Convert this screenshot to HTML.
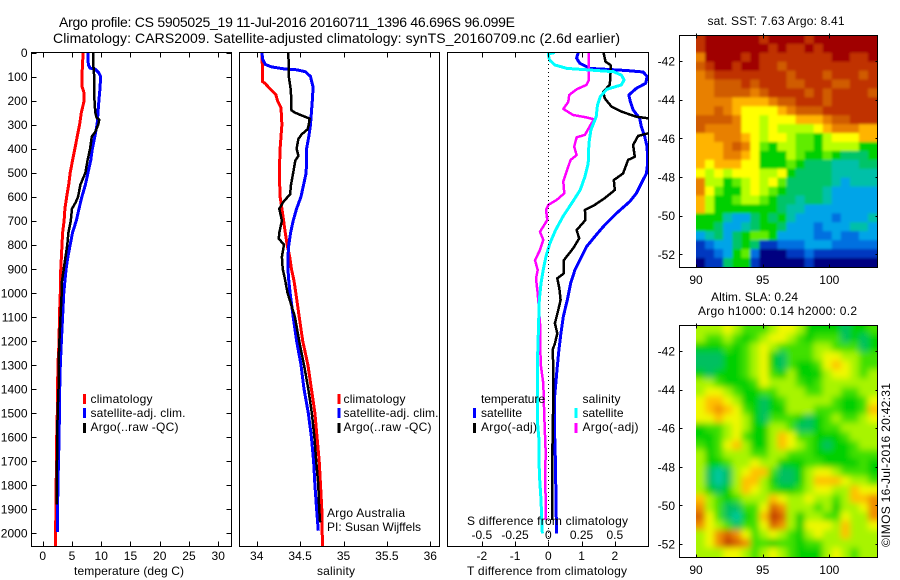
<!DOCTYPE html>
<html>
<head>
<meta charset="utf-8">
<title>Argo profile</title>
<style>
html,body{margin:0;padding:0;background:#fff;}
svg{display:block;}
text{font-family:"Liberation Sans",sans-serif;font-size:12px;fill:#000;}
</style>
</head>
<body>
<svg id="chart" xmlns="http://www.w3.org/2000/svg" width="900" height="580" viewBox="0 0 900 580">
<defs>
<clipPath id="clipP1"><rect x="31" y="52" width="200" height="494"/></clipPath>
<clipPath id="clipP2"><rect x="239" y="52" width="200" height="494"/></clipPath>
<clipPath id="clipP3"><rect x="447" y="52" width="201" height="494"/></clipPath>
<clipPath id="clipM1"><rect x="696" y="35" width="181" height="232"/></clipPath>
<clipPath id="clipM2"><rect x="696" y="325" width="181" height="232"/></clipPath>
<filter id="slaBlur" x="-10%" y="-10%" width="120%" height="120%"><feGaussianBlur stdDeviation="3.2"/></filter>
<filter id="sstBlur" x="-10%" y="-10%" width="120%" height="120%"><feGaussianBlur stdDeviation="1.2"/></filter>
</defs>
<rect x="0" y="0" width="900" height="580" fill="#fff"/>
<g id="maps"></g>
<g id="profiles"></g>
<line x1="548.5" x2="548.5" y1="52" y2="546" stroke="#000" stroke-dasharray="1 3" stroke-width="1" shape-rendering="crispEdges"/>
<g id="axes"></g>
<text x="59" y="27" font-size="14" style="font-size:14px" textLength="456">Argo profile: CS 5905025_19 11-Jul-2016 20160711_1396 46.696S 96.099E</text>
<text x="53" y="43" style="font-size:14px" textLength="567">Climatology: CARS2009. Satellite-adjusted climatology: synTS_20160709.nc (2.6d earlier)</text>
<text x="74" y="575" textLength="110">temperature (deg C)</text>
<text x="317" y="575" textLength="38">salinity</text>
<text x="467" y="575" textLength="160">T difference from climatology</text>
<text x="467" y="525" textLength="161">S difference from climatology</text>
<g>
<rect x="83" y="394" width="3" height="10" fill="#f00"/>
<text x="90.5" y="403" textLength="62">climatology</text>
<rect x="83" y="408" width="3" height="10" fill="#00f"/>
<text x="90.5" y="417" textLength="95">satellite-adj. clim.</text>
<rect x="83" y="423" width="3" height="10" fill="#000"/>
<text x="90.5" y="431" textLength="88">Argo(..raw -QC)</text>
</g>
<g>
<rect x="337.5" y="394" width="3" height="10" fill="#f00"/>
<text x="343.5" y="403" textLength="62">climatology</text>
<rect x="337.5" y="408" width="3" height="10" fill="#00f"/>
<text x="343.5" y="417" textLength="95">satellite-adj. clim.</text>
<rect x="337.5" y="423" width="3" height="10" fill="#000"/>
<text x="343.5" y="431" textLength="88">Argo(..raw -QC)</text>
</g>
<text x="327" y="517" textLength="78">Argo Australia</text>
<text x="327" y="531" textLength="94">PI: Susan Wijffels</text>
<g>
<text x="481" y="403" textLength="64">temperature</text>
<text x="582.5" y="403" textLength="38">salinity</text>
<rect x="473" y="408" width="3" height="10" fill="#00f"/>
<text x="481" y="417" textLength="41">satellite</text>
<rect x="473" y="423" width="3" height="10" fill="#000"/>
<text x="481" y="431" textLength="56">Argo(-adj)</text>
<rect x="574.5" y="408" width="3" height="10" fill="#0ff"/>
<text x="582.5" y="417" textLength="41">satellite</text>
<rect x="574.5" y="423" width="3" height="10" fill="#f0f"/>
<text x="582.5" y="431" textLength="56">Argo(-adj)</text>
</g>
<text x="707.5" y="25" textLength="137">sat. SST: 7.63 Argo: 8.41</text>
<text x="711" y="301" textLength="87">Altim. SLA: 0.24</text>
<text x="698" y="315" textLength="159">Argo h1000: 0.14 h2000: 0.2</text>
<text transform="translate(890,547) rotate(-90)" textLength="164">©IMOS 16-Jul-2016 20:42:31</text>
</svg>
<script>
// ---------- tick labels ----------
var depthTicks = [0,100,200,300,400,500,600,700,800,900,1000,1100,1200,1300,1400,1500,1600,1700,1800,1900,2000];
var tempTicks = [0,5,10,15,20,25,30];
var salTicks = [34,34.5,35,35.5,36];
var salTickLabels = ['34','34.5','35','35.5','36'];
var tDiffTicks = [-2,-1,0,1,2];
var sDiffTicks = [-0.5,-0.25,0,0.25,0.5];
var lonTicks = [90,95,100];
var latTicks = [-42,-44,-46,-48,-50,-52];

// ---------- temperature profiles ----------
var tClimDepth = [0,100,140,170,200,250,300,350,400,450,500,550,600,650,700,750,800,850,900,950,1000,1100,1200,1300,1400,1500,1600,1700,1800,1900,2000,2058];
var tClimValue = [6.9,6.7,6.7,7.1,7.1,6.6,6.3,5.9,5.5,5.1,4.7,4.45,4.1,3.8,3.65,3.4,3.3,3.2,3.1,3.0,3.0,2.85,2.8,2.6,2.55,2.5,2.4,2.35,2.3,2.25,2.2,2.2];
var tSatDepth = [0,50,65,70,85,100,150,200,250,300,350,400,450,500,550,600,650,700,750,800,850,900,950,1000,1100,1200,1300,1400,1500,1600,1700,1800,1900,1995];
var tSatValue = [7.75,7.8,8.1,9.0,9.6,9.9,9.8,9.6,9.45,9.3,8.9,8.5,8.2,7.75,7.3,6.7,6.2,5.75,5.1,4.7,4.3,4.0,3.8,3.6,3.4,3.2,3.0,2.9,2.85,2.8,2.7,2.6,2.55,2.5];
var tArgoDepth = [0,50,100,150,200,250,270,280,300,330,350,400,450,500,550,600,625,650,700,750,800,850,900,950,1000,1100,1200,1300,1400,1500,1600,1700,1800,1880];
var tArgoValue = [8.65,8.65,8.8,8.8,8.85,9.0,9.2,9.65,9.5,9.0,8.4,8.1,7.65,7.3,6.45,6.05,5.6,5.0,4.8,4.4,4.2,3.9,3.6,3.3,3.25,3.05,2.85,2.7,2.7,2.55,2.5,2.45,2.4,2.4];

// ---------- salinity profiles ----------
var sClimDepth = [0,50,120,130,150,175,200,230,300,400,500,600,650,700,750,800,850,900,950,1000,1100,1200,1300,1400,1500,1600,1700,1800,1900,2000,2058];
var sClimValue = [34.06,34.065,34.065,34.1,34.15,34.22,34.24,34.28,34.29,34.27,34.26,34.27,34.29,34.31,34.33,34.35,34.38,34.4,34.43,34.45,34.49,34.53,34.59,34.63,34.67,34.695,34.72,34.735,34.75,34.755,34.76];
var sSatDepth = [0,30,50,60,68,72,80,100,145,200,300,350,400,500,550,600,650,700,750,800,850,900,950,1000,1100,1200,1300,1400,1500,1600,1700,1800,1900,1990];
var sSatValue = [34.06,34.07,34.1,34.17,34.31,34.46,34.56,34.62,34.65,34.64,34.62,34.6,34.575,34.57,34.54,34.51,34.46,34.42,34.39,34.37,34.36,34.36,34.37,34.385,34.42,34.46,34.51,34.545,34.595,34.63,34.655,34.67,34.69,34.71];
var sArgoDepth = [0,100,150,200,240,250,265,275,300,320,340,360,400,430,450,500,550,590,620,650,700,750,775,800,850,900,950,1000,1100,1200,1300,1400,1500,1600,1700,1800,1900,1955];
var sArgoValue = [34.365,34.37,34.39,34.4,34.4,34.44,34.54,34.61,34.6,34.585,34.52,34.48,34.46,34.48,34.445,34.42,34.395,34.385,34.31,34.26,34.29,34.26,34.255,34.315,34.29,34.3,34.33,34.355,34.44,34.49,34.545,34.595,34.635,34.665,34.685,34.71,34.72,34.73];

// ---------- difference profiles ----------
var dtSatDepth = [0,24,45,66,75,81,100,128,149,177,205,239,274,309,350,392,461,503,544,586,620,669,725,766,808,850,905,961,1030,1099,1169,1238,1307,1446,1585,1724,1862,2001];
var dtSatValue = [0.9,0.85,0.95,1.25,2.35,2.85,2.97,2.93,2.65,2.42,2.47,2.55,2.75,2.8,2.9,2.97,2.99,2.95,2.8,2.65,2.45,2.05,1.65,1.4,1.15,1.0,0.8,0.67,0.57,0.45,0.38,0.32,0.27,0.18,0.19,0.22,0.23,0.25];
var dtArgoDepth = [0,38,52,87,135,163,191,225,246,267,274,300,336,347,385,434,447,503,531,572,606,634,655,697,739,773,815,864,919,940,981,1030,1071,1127,1169,1211,1238,1307,1377,1446,1585,1724,1862,1945];
var dtArgoValue = [1.66,1.72,1.87,1.87,1.85,1.65,1.7,1.9,2.2,2.65,3.0,3.4,3.02,2.7,2.55,2.6,2.4,2.25,1.97,2.0,1.7,1.4,1.1,1.12,0.85,0.93,0.75,0.47,0.47,0.27,0.33,0.37,0.3,0.2,0.27,0.2,0.13,0.15,0.15,0.15,0.13,0.12,0.12,0.11];
var dsSatDepth = [0,6,31,52,66,73,80,94,114,135,153,184,218,267,322,378,461,517,572,628,683,739,794,850,905,961,1030,1169,1307,1446,1530,1613,1751,1862,2001];
var dsSatValue = [0.05,0,0.008,0.05,0.14,0.31,0.49,0.55,0.57,0.55,0.44,0.39,0.37,0.36,0.32,0.305,0.3,0.275,0.24,0.175,0.11,0.055,0.012,-0.018,-0.038,-0.055,-0.068,-0.075,-0.083,-0.083,-0.083,-0.07,-0.068,-0.055,-0.045];
var dsArgoDepth = [0,45,114,135,153,177,205,235,260,270,278,309,343,353,392,427,447,503,537,586,614,634,655,697,746,780,822,864,905,940,1002,1071,1127,1211,1307,1377,1515,1654,1793,1932,1945];
var dsArgoValue = [0.305,0.305,0.305,0.2875,0.2125,0.1575,0.15,0.1125,0.1875,0.2875,0.3425,0.31,0.275,0.2125,0.195,0.2125,0.1675,0.1325,0.1125,0.12,0.0625,0,-0.0175,-0.0075,-0.0625,-0.0375,-0.0625,-0.1,-0.08,-0.0925,-0.08,-0.07,-0.0625,-0.0625,-0.055,-0.0375,-0.03,-0.02,-0.0225,-0.0175,-0.02];

// ---------- map grids (colour-scale level, 0 = coldest/lowest, 14 = warmest/highest) ----------
var sstLevels = [
[13,14,14,14,14,14,14,13,14,14,14,14,13,14,14,14,14,14,14,14],
[13,14,14,14,14,14,14,14,13,14,13,13,14,13,14,14,14,14,14,14],
[11,14,14,14,14,13,14,13,13,13,13,13,13,13,13,14,14,13,13,14],
[12,13,14,14,13,14,14,13,13,12,13,13,13,13,13,13,13,13,13,13],
[11,12,13,13,13,13,13,13,13,13,12,13,13,13,12,13,13,13,12,13],
[11,11,12,12,12,13,12,13,13,13,12,12,13,13,13,12,12,13,13,13],
[11,11,12,12,12,12,11,12,13,13,13,13,12,13,12,13,13,13,13,12],
[11,11,11,11,10,10,10,10,11,12,12,13,13,13,12,13,13,13,13,13],
[11,11,12,11,10,9,9,9,9,10,11,12,12,12,13,13,13,13,13,13],
[12,12,12,12,11,9,9,8,9,9,9,10,10,10,11,12,12,13,13,13],
[12,11,11,11,11,9,9,8,9,8,8,8,8,9,10,11,11,11,10,10],
[10,10,11,11,11,10,9,8,9,9,8,7,7,6,8,9,9,9,10,10],
[10,10,10,11,12,11,9,7,6,8,8,7,7,6,8,8,8,8,6,6],
[10,10,10,11,11,10,9,6,6,6,8,7,6,6,7,6,5,5,5,6],
[10,9,10,10,10,9,9,6,6,6,7,6,5,5,5,4,4,4,5,5],
[9,8,9,8,9,9,9,8,8,9,6,5,5,5,5,4,4,4,4,4],
[11,8,8,6,7,8,9,8,9,7,5,5,5,5,5,4,3,4,4,4],
[11,9,7,6,6,8,9,8,7,6,5,5,5,5,4,3,3,3,3,3],
[10,8,6,6,7,8,8,7,6,5,5,4,5,5,4,3,3,3,3,3],
[10,8,6,6,6,6,6,6,6,5,4,4,3,3,3,3,3,3,3,3],
[6,6,6,4,3,3,5,6,5,6,4,3,3,3,3,2,3,3,3,4],
[6,6,5,3,3,4,5,6,6,5,3,3,3,2,3,3,3,4,4,3],
[3,4,5,3,5,6,7,7,6,3,3,3,3,2,2,3,2,2,3,3],
[1,2,3,3,5,6,5,1,1,2,2,2,3,3,3,2,2,2,2,2],
[1,1,2,3,6,7,2,0,0,0,1,1,2,1,1,1,1,1,1,1],
[0,1,1,5,6,6,1,0,0,0,0,0,1,0,0,0,0,0,0,0]
];
var slaLevels = [
[8,8,8,9,8,7,7,7,8,9,9,8,6,6,6,6,5,6,6,7],
[8,7,7,8,7,6,7,8,9,9,8,7,6,7,7,7,5,6,5,6],
[6,6,6,7,6,7,8,9,8,7,7,7,7,8,8,7,7,7,5,6],
[5,5,5,6,6,7,8,9,6,5,7,7,7,8,9,9,8,8,7,7],
[5,5,5,6,6,7,8,9,6,5,7,6,6,7,9,10,9,8,7,7],
[6,5,6,6,6,7,8,9,7,6,8,6,6,6,8,9,9,8,7,8],
[8,8,7,6,6,6,7,9,8,8,8,7,6,7,8,8,8,8,8,8],
[8,9,9,8,7,6,6,7,7,8,8,8,7,7,8,8,7,7,8,8],
[9,10,10,9,8,6,6,5,6,7,8,8,8,8,8,7,6,6,7,9],
[9,10,11,10,9,7,6,5,6,6,8,8,8,7,7,7,6,6,7,10],
[9,9,10,9,9,8,6,5,7,7,7,6,5,6,7,8,7,7,8,9],
[6,7,7,8,9,8,6,6,8,8,7,5,5,6,7,7,8,8,8,8],
[6,6,7,8,9,7,6,6,8,10,9,7,7,6,6,6,7,8,8,8],
[7,6,7,9,10,8,6,6,8,10,9,8,7,6,5,6,6,7,8,8],
[8,6,7,8,8,8,7,7,8,8,7,7,7,6,6,6,6,7,7,7],
[8,6,6,7,8,8,9,8,8,6,6,6,7,7,6,6,6,6,7,6],
[8,5,4,5,8,9,10,10,7,5,5,6,8,9,9,8,7,7,7,6],
[8,5,4,5,8,10,10,8,6,5,5,6,8,10,10,10,9,8,8,7],
[8,6,5,6,8,10,9,8,7,6,6,7,8,9,9,8,8,10,9,9],
[10,8,7,6,7,8,8,8,10,9,8,8,9,8,8,7,8,10,10,11],
[11,8,7,5,5,7,7,9,12,11,8,8,8,7,8,6,8,8,9,11],
[12,9,7,5,4,6,7,10,13,12,8,6,8,8,7,7,9,8,8,11],
[11,9,8,7,5,7,7,9,12,11,8,6,9,9,9,8,10,8,8,9],
[8,9,11,12,11,9,7,8,9,8,7,6,8,9,8,8,10,8,8,8],
[8,9,11,13,12,11,7,7,6,7,7,6,7,7,8,8,8,8,8,8],
[8,8,8,9,9,8,7,8,9,8,7,6,6,6,8,9,8,7,8,8]
];
var sstColours = ['#000080','#0038c0','#0070e0','#00a4e8','#00c0a8','#00c468','#00d000','#60ec00','#b8ff00','#ffff00','#ffb400','#e88000','#d05c00','#c03000','#a00000'];
var slaColours = ['#000080','#0038c0','#0070e0','#00a4e8','#00c8a0','#00c060','#00d000','#40e000','#a8f400','#f0f800','#ffc000','#f09000','#d86000','#c03800','#a00000'];

var NS = 'http://www.w3.org/2000/svg';
var mapsG = document.getElementById('maps');
var profilesG = document.getElementById('profiles');
var axesG = document.getElementById('axes');

// axis functions
function yDepth(d){ return 52.5 + d * 0.2403; }
function xTemp(t){ return 42.7 + t * 5.85; }
function xSal(s){ return 256.7 + (s - 34) * 86.8; }
function xDiffT(t){ return 548.3 + t * 33.25; }
function xDiffS(s){ return 548.3 + s * 133; }
function xLon(lon){ return 696 + (lon - 90) * 13.33; }
function ySstLat(lat){ return 61 + (-42 - lat) * 19.33; }
function ySlaLat(lat){ return 351 + (-42 - lat) * 19.3; }

function svgEl(tag, parent){
  var el = document.createElementNS(NS, tag);
  parent.appendChild(el);
  return el;
}
function drawSeries(name, depths, values, xFn, colour, width, clipId){
  var pts = [];
  for (var i = 0; i < depths.length; i++){
    pts.push(xFn(values[i]).toFixed(1) + ',' + yDepth(depths[i]).toFixed(1));
  }
  var el = svgEl('polyline', profilesG);
  
  
  el.setAttribute('points', pts.join(' '));
  el.setAttribute('fill', 'none');
  el.setAttribute('stroke', colour);
  el.setAttribute('stroke-width', width);
  el.setAttribute('stroke-linejoin', 'round');
  el.setAttribute('shape-rendering', 'crispEdges');
  el.setAttribute('clip-path', 'url(#' + clipId + ')');
}
function drawLine(name, x1, y1, x2, y2){
  var el = svgEl('line', axesG);
  
  
  el.setAttribute('x1', x1);
  el.setAttribute('y1', y1);
  el.setAttribute('x2', x2);
  el.setAttribute('y2', y2);
  el.setAttribute('stroke', '#000');
  el.setAttribute('stroke-width', 1);
  el.setAttribute('shape-rendering', 'crispEdges');
}
function drawLabel(name, str, x, y, anchor){
  var el = svgEl('text', axesG);
  
  
  el.setAttribute('x', x);
  el.setAttribute('y', y);
  el.setAttribute('text-anchor', anchor);
  el.textContent = str;
}
function drawBox(name, l, t, r, b){
  var el = svgEl('rect', axesG);
  
  
  el.setAttribute('x', l);
  el.setAttribute('y', t);
  el.setAttribute('width', r - l);
  el.setAttribute('height', b - t);
  el.setAttribute('fill', 'none');
  el.setAttribute('stroke', '#000');
  el.setAttribute('shape-rendering', 'crispEdges');
}
function drawGrid(name, levels, colours, parent){
  var rows = levels.length, cols = levels[0].length;
  var lonStep = 13.58 / cols, latTop = -40.65, latStep = 12 / rows;
  var yFn = name === 'sst' ? ySstLat : ySlaLat;
  for (var j = 0; j < rows; j++){
    for (var i = 0; i < cols; i++){
      var x0 = xLon(90 + i * lonStep), x1 = xLon(90 + (i + 1) * lonStep);
      var y0 = yFn(latTop - j * latStep), y1 = yFn(latTop - (j + 1) * latStep);
      // outer cells bleed past the frame so the smoothing does not fade at the clip edge
      if (i === 0) x0 -= 14;
      if (i === cols - 1) x1 += 14;
      if (j === 0) y0 -= 14;
      if (j === rows - 1) y1 += 14;
      var el = svgEl('rect', parent);
      
      
      el.setAttribute('x', x0.toFixed(2));
      el.setAttribute('y', y0.toFixed(2));
      el.setAttribute('width', (x1 - x0 + 0.5).toFixed(2));
      el.setAttribute('height', (y1 - y0 + 0.5).toFixed(2));
      el.setAttribute('fill', colours[levels[j][i]]);
    }
  }
}

// maps
var sstClip = svgEl('g', mapsG);


sstClip.setAttribute('clip-path', 'url(#clipM1)');
var sstBlurred = svgEl('g', sstClip);


sstBlurred.setAttribute('filter', 'url(#sstBlur)');
drawGrid('sst', sstLevels, sstColours, sstBlurred);

var slaClip = svgEl('g', mapsG);


slaClip.setAttribute('clip-path', 'url(#clipM2)');
var slaBlurred = svgEl('g', slaClip);


slaBlurred.setAttribute('filter', 'url(#slaBlur)');
drawGrid('sla', slaLevels, slaColours, slaBlurred);

// series
drawSeries('temperature-climatology-line', tClimDepth, tClimValue, xTemp, '#f00', 3, 'clipP1');
drawSeries('temperature-satellite-line', tSatDepth, tSatValue, xTemp, '#00f', 3, 'clipP1');
drawSeries('temperature-argo-line', tArgoDepth, tArgoValue, xTemp, '#000', 2.5, 'clipP1');
drawSeries('salinity-climatology-line', sClimDepth, sClimValue, xSal, '#f00', 3, 'clipP2');
drawSeries('salinity-satellite-line', sSatDepth, sSatValue, xSal, '#00f', 3, 'clipP2');
drawSeries('salinity-argo-line', sArgoDepth, sArgoValue, xSal, '#000', 2.5, 'clipP2');
drawSeries('t-difference-satellite-line', dtSatDepth, dtSatValue, xDiffT, '#00f', 3, 'clipP3');
drawSeries('t-difference-argo-line', dtArgoDepth, dtArgoValue, xDiffT, '#000', 2.5, 'clipP3');
drawSeries('s-difference-argo-line', dsArgoDepth, dsArgoValue, xDiffS, '#f0f', 2.5, 'clipP3');
drawSeries('s-difference-satellite-line', dsSatDepth, dsSatValue, xDiffS, '#0ff', 3, 'clipP3');

// panel frames
drawBox('temperature-panel-frame', 31.5, 52.5, 231.5, 546.5);
drawBox('salinity-panel-frame', 239.5, 52.5, 439.5, 546.5);
drawBox('difference-panel-frame', 447.5, 52.5, 648.5, 546.5);
drawBox('sst-map-frame', 679.5, 35.5, 877.5, 267.5);
drawBox('sla-map-frame', 679.5, 325.5, 877.5, 557.5);

// depth ticks
depthTicks.forEach(function(d){
  var y = Math.round(yDepth(d)) + 0.5;
  drawLine('depth-tick-left', 31.5, y, 36.5, y);
  drawLine('depth-tick-right', 226.5, y, 231.5, y);
  drawLabel('depth-tick-label', String(d), 27.5, yDepth(d) + 4.5, 'end');
});
// temperature ticks
tempTicks.forEach(function(t){
  var x = Math.round(xTemp(t)) + 0.5;
  drawLine('temperature-tick-top', x, 52.5, x, 57.5);
  drawLine('temperature-tick-bottom', x, 541.5, x, 546.5);
  drawLabel('temperature-tick-label', String(t), xTemp(t), 560, 'middle');
});
// salinity ticks
salTicks.forEach(function(s, i){
  var x = Math.round(xSal(s)) + 0.5;
  drawLine('salinity-tick-top', x, 52.5, x, 57.5);
  drawLine('salinity-tick-bottom', x, 541.5, x, 546.5);
  drawLabel('salinity-tick-label', salTickLabels[i], xSal(s), 560, 'middle');
});
// difference ticks
tDiffTicks.forEach(function(t){
  var x = Math.round(xDiffT(t)) + 0.5;
  drawLine('t-difference-tick-top', x, 52.5, x, 57.5);
  drawLine('t-difference-tick-bottom', x, 541.5, x, 546.5);
  drawLabel('t-difference-tick-label', String(t), xDiffT(t), 560, 'middle');
});
sDiffTicks.forEach(function(s){
  drawLabel('s-difference-tick-label', String(s), xDiffS(s), 539, 'middle');
});
// map ticks
lonTicks.forEach(function(lon){
  var x = Math.round(xLon(lon)) + 0.5;
  drawLine('sst-lon-tick-top', x, 33.5, x, 38.5);
  drawLine('sst-lon-tick-bottom', x, 264.5, x, 267.5);
  drawLabel('sst-lon-tick-label', String(lon), xLon(lon), 284, 'middle');
  drawLine('sla-lon-tick-top', x, 323.5, x, 328.5);
  drawLine('sla-lon-tick-bottom', x, 554.5, x, 557.5);
  drawLabel('sla-lon-tick-label', String(lon), xLon(lon), 574, 'middle');
});
latTicks.forEach(function(lat){
  var y1 = Math.round(ySstLat(lat)) + 0.5;
  var y2 = Math.round(ySlaLat(lat)) + 0.5;
  drawLine('sst-lat-tick-left', 679.5, y1, 682.5, y1);
  drawLine('sst-lat-tick-right', 875.5, y1, 877.5, y1);
  drawLabel('sst-lat-tick-label', String(lat), 675, ySstLat(lat) + 4.5, 'end');
  drawLine('sla-lat-tick-left', 679.5, y2, 682.5, y2);
  drawLine('sla-lat-tick-right', 875.5, y2, 877.5, y2);
  drawLabel('sla-lat-tick-label', String(lat), 675, ySlaLat(lat) + 4.5, 'end');
});
</script>
</body>
</html>
